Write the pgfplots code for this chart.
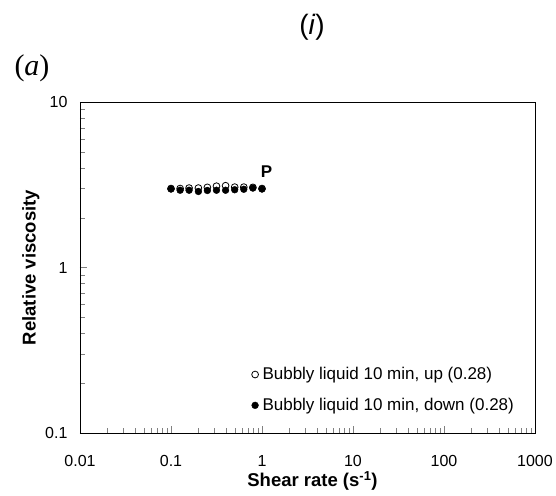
\documentclass[border=0pt]{standalone}
\usepackage{pgfplots}
\pgfplotsset{compat=1.18}
\usepackage{graphicx}
\usepackage{fontspec}
\setmainfont{Liberation Sans}
\newfontfamily\seriffont{Liberation Serif}
\begin{document}
\begin{tikzpicture}[x=1pt,y=1pt]
\useasboundingbox (-80,-62) rectangle (476,433);
\begin{axis}[
  at={(0,0)}, anchor=south west,
  scale only axis, width=455pt, height=331pt,
  xmode=log, ymode=log,
  xmin=0.01, xmax=1000, ymin=0.1, ymax=10,
  xtick={0.01,0.1,1,10,100,1000},
  xticklabels={0.01,0.1,1,10,100,1000},
  ytick={0.1,1,10},
  yticklabels={0.1,1,10},
  xtick pos=bottom, ytick pos=left,
  tick align=inside,
  major tick length=7pt, minor tick length=5pt,
  /pgf/number format/assume math mode=true,
  ticklabel style={font=\fontsize{16}{18}\selectfont},
  xticklabel style={yshift=-19pt},
  yticklabel style={xshift=-9pt},
  xlabel={\bfseries Shear rate (s\textsuperscript{-1})},
  ylabel={\bfseries Relative viscosity},
  label style={font=\fontsize{18.5}{22}\selectfont},
  xlabel style={yshift=2pt, xshift=5pt},
  ylabel style={yshift=-1pt},
  axis line style={black, line width=0.8pt},
  legend style={draw=none, fill=none, at={(0.965,0.05)}, anchor=south east,
    font=\fontsize{17}{20}\selectfont, row sep=13pt,
    legend cell align=left},
]
\addplot[only marks, mark=*, mark options={fill=white, draw=black, line width=0.8pt}, mark size=3.4pt]
  coordinates {(0.1,3.0) (0.126,3.0) (0.158,3.02) (0.2,3.02) (0.251,3.05) (0.316,3.1) (0.398,3.12) (0.501,3.06) (0.631,3.06) (0.794,3.05) (1.0,3.0)};
\addlegendentry{\hspace{2pt}Bubbly liquid 10 min, up (0.28)}
\addplot[only marks, mark=*, mark options={fill=black, draw=black}, mark size=3.4pt]
  coordinates {(0.1,2.98) (0.126,2.93) (0.158,2.93) (0.2,2.88) (0.251,2.92) (0.316,2.93) (0.398,2.93) (0.501,2.95) (0.631,2.97) (0.794,3.02) (1.0,2.98)};
\addlegendentry{\hspace{2pt}Bubbly liquid 10 min, down (0.28)}
\node[font=\fontsize{17}{20}\selectfont\bfseries] at (axis cs:1.12,3.8) {P};
\end{axis}
\node[font=\fontsize{30}{34}\selectfont\seriffont] at (-48,365) {(\textit{a})};
\node[font=\fontsize{28}{32}\selectfont] at (232,406) {(\textit{i})};
\end{tikzpicture}
\end{document}
